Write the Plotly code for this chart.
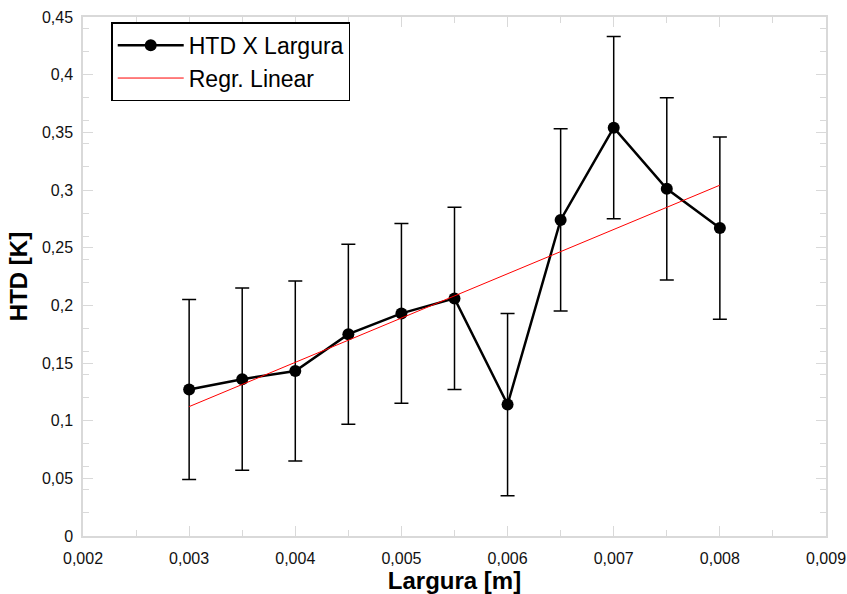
import numpy as np
import plotly.graph_objects as go

largura = [0.003, 0.0035, 0.004, 0.0045, 0.005, 0.0055, 0.006, 0.0065, 0.007, 0.0075, 0.008]
htd = [0.127, 0.136, 0.143, 0.175, 0.193, 0.206, 0.114, 0.274, 0.354, 0.301, 0.267]
htd_err = [0.078, 0.079, 0.078, 0.078, 0.078, 0.079, 0.079, 0.079, 0.079, 0.079, 0.079]

x_ticks = [0.002, 0.003, 0.004, 0.005, 0.006, 0.007, 0.008, 0.009]
x_labels = ["0,002", "0,003", "0,004", "0,005", "0,006", "0,007", "0,008", "0,009"]
y_ticks = [0, 0.05, 0.1, 0.15, 0.2, 0.25, 0.3, 0.35, 0.4, 0.45]
y_labels = ["0", "0,05", "0,1", "0,15", "0,2", "0,25", "0,3", "0,35", "0,4", "0,45"]

slope, intercept = np.polyfit(largura, htd, 1)
fit_x = [largura[0], largura[-1]]
fit_y = [slope * v + intercept for v in fit_x]

FONT = "Liberation Sans, Arial, sans-serif"
tick_font = dict(family=FONT, size=16, color="#111")
title_font = dict(family=FONT, size=24, color="black")

fig = go.Figure()
fig.add_trace(go.Scatter(
    x=largura, y=htd, mode="lines+markers", name="HTD X Largura",
    line=dict(color="black", width=2.5),
    marker=dict(color="black", size=12),
    error_y=dict(type="data", array=htd_err, visible=True, color="black", thickness=1.5, width=7),
))
fig.add_trace(go.Scatter(
    x=fit_x, y=fit_y, mode="lines", name="Regr. Linear",
    line=dict(color="red", width=1),
))

axis_common = dict(
    showgrid=False, zeroline=False, showline=True, linecolor="#d9d9d9", linewidth=1.5,
    mirror="allticks", ticks="inside", tickcolor="#d9d9d9", ticklen=10, tickwidth=1,
    tickfont=tick_font, automargin=False,
)

fig.update_layout(
    width=847, height=594,
    margin=dict(l=83, r=21, t=17, b=58),
    plot_bgcolor="white", paper_bgcolor="white",
    showlegend=True,
    legend=dict(
        x=0.038, y=0.99, xanchor="left", yanchor="top",
        bgcolor="white", bordercolor="black", borderwidth=1.5,
        font=dict(family=FONT, size=23, color="black"),
        itemwidth=66,
        tracegroupgap=0,
    ),
    xaxis=dict(
        range=[0.002, 0.009], tickvals=x_ticks, ticktext=x_labels,
        minor=dict(ticks="inside", ticklen=6, tickcolor="#d9d9d9", nticks=5),
        ticklabelstandoff=7,
        title=dict(text="<b>Largura [m]</b>", font=title_font, standoff=6),
        **axis_common,
    ),
    yaxis=dict(
        range=[0, 0.45], tickvals=y_ticks, ticktext=y_labels,
        minor=dict(ticks="inside", ticklen=6, tickcolor="#d9d9d9", nticks=5),
        ticklabelstandoff=5,
        title=dict(text="<b>HTD [K]</b>", font=title_font, standoff=8),
        **axis_common,
    ),
)

fig.write_html("out.html")
